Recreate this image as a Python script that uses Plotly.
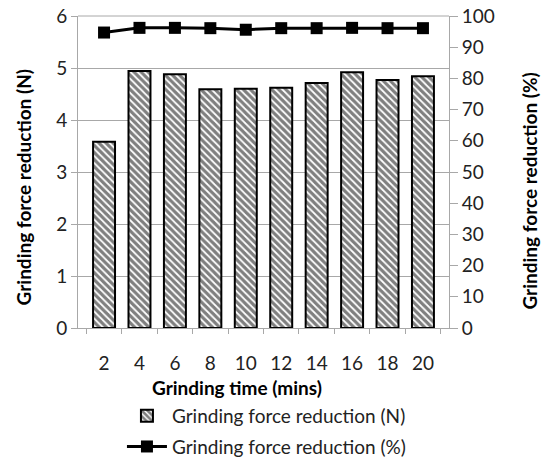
import plotly.graph_objects as go

# data
grinding_time = ["2", "4", "6", "8", "10", "12", "14", "16", "18", "20"]
force_reduction_n = [3.58, 4.94, 4.88, 4.59, 4.60, 4.62, 4.71, 4.92, 4.77, 4.84]
force_reduction_pct = [94.7, 96.2, 96.2, 96.1, 95.6, 96.1, 96.1, 96.2, 96.1, 96.1]

left_ticks = [0, 1, 2, 3, 4, 5, 6]
right_ticks = list(range(0, 101, 10))

FONT = "Lato, Calibri, sans-serif"
GRID = "#a8a8a8"

fig = go.Figure()

fig.add_trace(go.Bar(
    x=grinding_time,
    y=force_reduction_n,
    name="Grinding force reduction (N)",
    legendgroup="n",
    marker=dict(
        color="white",
        line=dict(color="black", width=2),
        pattern=dict(shape="\\", fgcolor="black", bgcolor="white",
                     size=5, solidity=0.65),
    ),
    yaxis="y",
))

fig.add_trace(go.Scatter(
    x=grinding_time,
    y=force_reduction_pct,
    name="Grinding force reduction (%)",
    legendgroup="pct",
    mode="lines+markers",
    line=dict(color="black", width=3),
    marker=dict(symbol="square", size=12, color="black"),
    yaxis="y2",
))

fig.update_layout(
    width=542,
    height=461,
    margin=dict(l=78, r=93, t=16, b=133, autoexpand=False),
    paper_bgcolor="white",
    plot_bgcolor="white",
    font=dict(family=FONT, size=19, color="#222222"),
    bargap=0.38,
    showlegend=True,
    legend=dict(
        xref="container", x=0.225, xanchor="left",
        yref="container", y=0.139, yanchor="top",
        orientation="v",
        font=dict(size=19, color="#222222"),
        itemwidth=40,
        tracegroupgap=3,
    ),
    xaxis=dict(
        type="category",
        automargin=False,
        showline=True, linecolor=GRID, linewidth=1,
        ticks="outside", tickson="boundaries", ticklen=5, tickcolor=GRID,
        ticklabelstandoff=18,
        showgrid=False,
        tickfont=dict(size=19),
    ),
    yaxis=dict(
        range=[0, 6],
        tickvals=left_ticks,
        automargin=False,
        showline=True, linecolor=GRID, linewidth=1,
        ticks="outside", ticklen=6, tickcolor=GRID,
        showgrid=True, gridcolor=GRID, gridwidth=1,
        tickfont=dict(size=19),
    ),
    yaxis2=dict(
        range=[0, 100],
        tickvals=right_ticks,
        overlaying="y",
        side="right",
        automargin=False,
        showline=True, linecolor=GRID, linewidth=1,
        ticks="outside", ticklen=8, tickcolor=GRID,
        showgrid=False,
        tickfont=dict(size=19),
    ),
    annotations=[
        dict(text="<b>Grinding time (mins)</b>", xref="paper", yref="paper",
             x=0.428, y=-0.192, xanchor="center", yanchor="middle",
             showarrow=False, font=dict(size=19, color="black")),
        dict(text="<b>Grinding force reduction (N)</b>", xref="paper", yref="paper",
             x=-0.146, y=0.45, xanchor="center", yanchor="middle", textangle=-90,
             showarrow=False, font=dict(size=19, color="black")),
        dict(text="<b>Grinding force reduction (%)</b>", xref="paper", yref="paper",
             x=1.218, y=0.44, xanchor="center", yanchor="middle", textangle=-90,
             showarrow=False, font=dict(size=19, color="black")),
    ],
    shapes=[
        dict(type="line", xref="paper", yref="paper", x0=0, x1=1, y0=1, y1=1,
             line=dict(color=GRID, width=1)),
    ],
)

# the page body has a default 8px margin; drop it so the figure fills the window
fig.write_html(
    "out.html",
    config={"displayModeBar": False},
    post_script="document.body.style.margin = '0';",
)
